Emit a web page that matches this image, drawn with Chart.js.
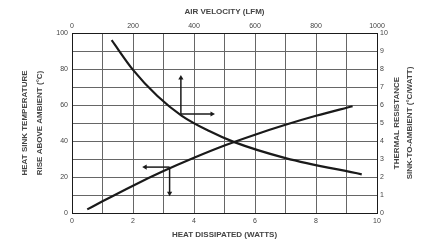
<!DOCTYPE html>
<html>
<head>
<meta charset="utf-8">
<script src="https://cdn.jsdelivr.net/npm/chart.js@4.4.0/dist/chart.umd.min.js"></script>
<style>
  html, body { margin: 0; padding: 0; background: #fff; }
</style>
</head>
<body>
<canvas id="chart" width="423" height="245"></canvas>
<script>
// --- data ---
// temperature rise vs heat dissipated (left / bottom axes)
const heatWatts = [0.5, 1, 2, 3, 4, 5, 6, 7, 8, 9.2];
const tempRise  = [2, 6.5, 15.2, 23.3, 30.7, 37.5, 43.5, 49, 54, 59.3];

// thermal resistance vs air velocity (right / top axes)
const airVelocity = [130, 200, 280, 360, 450, 530, 700, 950];
const thermalRes  = [9.6, 7.95, 6.5, 5.4, 4.55, 3.95, 3.05, 2.15];

// pointer arrows, in data units
const arrowUpLfm = [357, 357];  const arrowUpRes = [5.4, 7.5];
const arrowRtLfm = [357, 459];  const arrowRtRes = [5.5, 5.5];
const arrowLtW   = [3.2, 2.4];  const arrowLtT   = [25.5, 25.5];
const arrowDnW   = [3.2, 3.2];  const arrowDnT   = [25.5, 11];

const bottomTicks = [0, 2, 4, 6, 8, 10];
const leftTicks   = [0, 20, 40, 60, 80, 100];

const INK = '#1a1a1a';
const GRID = '#666';
const TXT = '#444';
const FONT = "'Liberation Sans', Arial, sans-serif";

const pts = (xs, ys) => xs.map((x, i) => ({ x, y: ys[i] }));

function arrow(xs, ys, xAxis, yAxis, rot) {
    return {
        data: pts(xs, ys), xAxisID: xAxis, yAxisID: yAxis,
        borderColor: INK, backgroundColor: INK, borderWidth: 1.5,
        pointRadius: [0, 3], pointStyle: 'triangle', rotation: rot,
        pointBorderWidth: 0
    };
}

const rightTitle = {
    id: 'rightTitle',
    afterDraw(chart) {
        const { ctx, chartArea } = chart;
        const cy = (chartArea.top + chartArea.bottom) / 2;
        ctx.save();
        ctx.fillStyle = TXT;
        ctx.font = `bold 8px ${FONT}`;
        ctx.textAlign = 'center';
        ctx.textBaseline = 'middle';
        [['THERMAL RESISTANCE', 397], ['SINK-TO-AMBIENT (°C/WATT)', 410]].forEach(([t, x]) => {
            ctx.save();
            ctx.translate(x, cy);
            ctx.rotate(-Math.PI / 2);
            ctx.fillText(t, 0, 0);
            ctx.restore();
        });
        ctx.restore();
    }
};

new Chart(document.getElementById('chart'), {
    type: 'line',
    data: {
        datasets: [
            { data: pts(heatWatts, tempRise), xAxisID: 'x', yAxisID: 'y',
              borderColor: INK, borderWidth: 2.2, pointRadius: 0, cubicInterpolationMode: 'monotone' },
            { data: pts(airVelocity, thermalRes), xAxisID: 'xTop', yAxisID: 'yRight',
              borderColor: INK, borderWidth: 2.2, pointRadius: 0, cubicInterpolationMode: 'monotone' },
            arrow(arrowUpLfm, arrowUpRes, 'xTop', 'yRight', 0),
            arrow(arrowRtLfm, arrowRtRes, 'xTop', 'yRight', 90),
            arrow(arrowLtW, arrowLtT, 'x', 'y', 270),
            arrow(arrowDnW, arrowDnT, 'x', 'y', 180)
        ]
    },
    options: {
        responsive: false,
        animation: false,
        layout: { padding: 0 },
        plugins: { legend: { display: false }, tooltip: { enabled: false } },
        scales: {
            x: {
                type: 'linear', position: 'bottom', min: 0, max: 10,
                afterFit: s => { s.height = 32; },
                grid: { color: GRID, lineWidth: 1, drawTicks: false },
                border: { color: INK },
                ticks: { stepSize: 1, autoSkip: false, padding: 4, color: TXT, font: { family: FONT, size: 7 },
                         callback: v => bottomTicks.includes(v) ? String(v) : '' },
                title: { display: true, text: 'HEAT DISSIPATED (WATTS)', color: TXT,
                         font: { family: FONT, size: 8, weight: 'bold', lineHeight: '10px' }, padding: { top: 0, bottom: 5 } }
            },
            xTop: {
                type: 'linear', position: 'top', min: 0, max: 1000,
                afterFit: s => { s.height = 33; },
                grid: { display: false, drawTicks: false },
                border: { color: INK },
                ticks: { stepSize: 200, padding: 3, color: TXT, font: { family: FONT, size: 7 },
                         callback: v => String(v) },
                title: { display: true, text: 'AIR VELOCITY (LFM)', color: TXT,
                         font: { family: FONT, size: 8, weight: 'bold', lineHeight: '10px' }, padding: { top: 7, bottom: 0 } }
            },
            y: {
                type: 'linear', position: 'left', min: 0, max: 100,
                afterFit: s => { s.width = 72; },
                grid: { color: GRID, lineWidth: 1, drawTicks: false },
                border: { color: INK },
                ticks: { stepSize: 10, autoSkip: false, padding: 4, color: TXT, font: { family: FONT, size: 7 },
                         callback: v => leftTicks.includes(v) ? String(v) : '' },
                title: { display: true, text: ['HEAT SINK TEMPERATURE', 'RISE ABOVE AMBIENT (°C)'], color: TXT,
                         font: { family: FONT, size: 8, weight: 'bold', lineHeight: '15px' }, padding: { top: 17, bottom: 0 } }
            },
            yRight: {
                type: 'linear', position: 'right', min: 0, max: 10,
                afterFit: s => { s.width = 46; },
                grid: { display: false, drawTicks: false },
                border: { color: INK },
                ticks: { stepSize: 1, autoSkip: false, padding: 3, color: TXT, font: { family: FONT, size: 7 } }
            }
        }
    },
    plugins: [rightTitle]
});
</script>
</body>
</html>
